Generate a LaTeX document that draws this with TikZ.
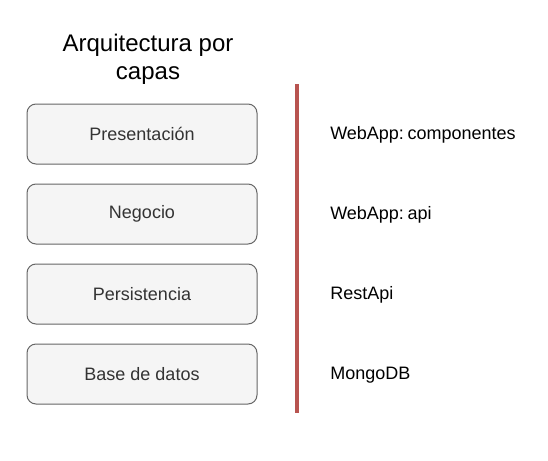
\documentclass[tikz,border=0pt]{standalone}
\usepackage{fontspec}
\setmainfont{Liberation Sans}
\definecolor{boxfill}{HTML}{F5F5F5}
\definecolor{boxdraw}{HTML}{666666}
\definecolor{boxtext}{HTML}{333333}
\definecolor{redline}{HTML}{B85450}
\begin{document}
\begin{tikzpicture}[x=0.75pt,y=-0.75pt,
  layer/.style={draw=boxdraw,fill=boxfill,rounded corners=6.75pt,line width=0.75pt,
    minimum width=172.5pt,minimum height=45pt,inner sep=0pt,text=boxtext,
    font=\fontsize{13.5}{16}\selectfont},
  sidelabel/.style={anchor=west,inner sep=0pt,font=\fontsize{13.5}{16}\selectfont,text=black}]
\useasboundingbox (0,0) rectangle (548,460);
\node[align=center,font=\fontsize{18}{21}\selectfont] (title) at (148,59) {Arquitectura por\\capas};
\node[layer] (p) at (142,134) {Presentación};
\node[layer] (n) at (142,214) {Negocio};
\node[layer] (s) at (142,294) {Persistencia};
\node[layer] (b) at (142,374) {Base de datos};
\coordinate (top) at (297,84);
\coordinate (bot) at (297,413);
\draw[redline,line width=3pt] (top) -- (bot);
\node[sidelabel] (lp) at (330,135) {WebApp:\kern-1pt\ componentes};
\node[sidelabel] (ln) at (330,215) {WebApp:\kern-1pt\ api};
\node[sidelabel] (ls) at (330,295) {RestApi};
\node[sidelabel] (lb) at (330,375) {MongoDB};
\end{tikzpicture}
\end{document}
